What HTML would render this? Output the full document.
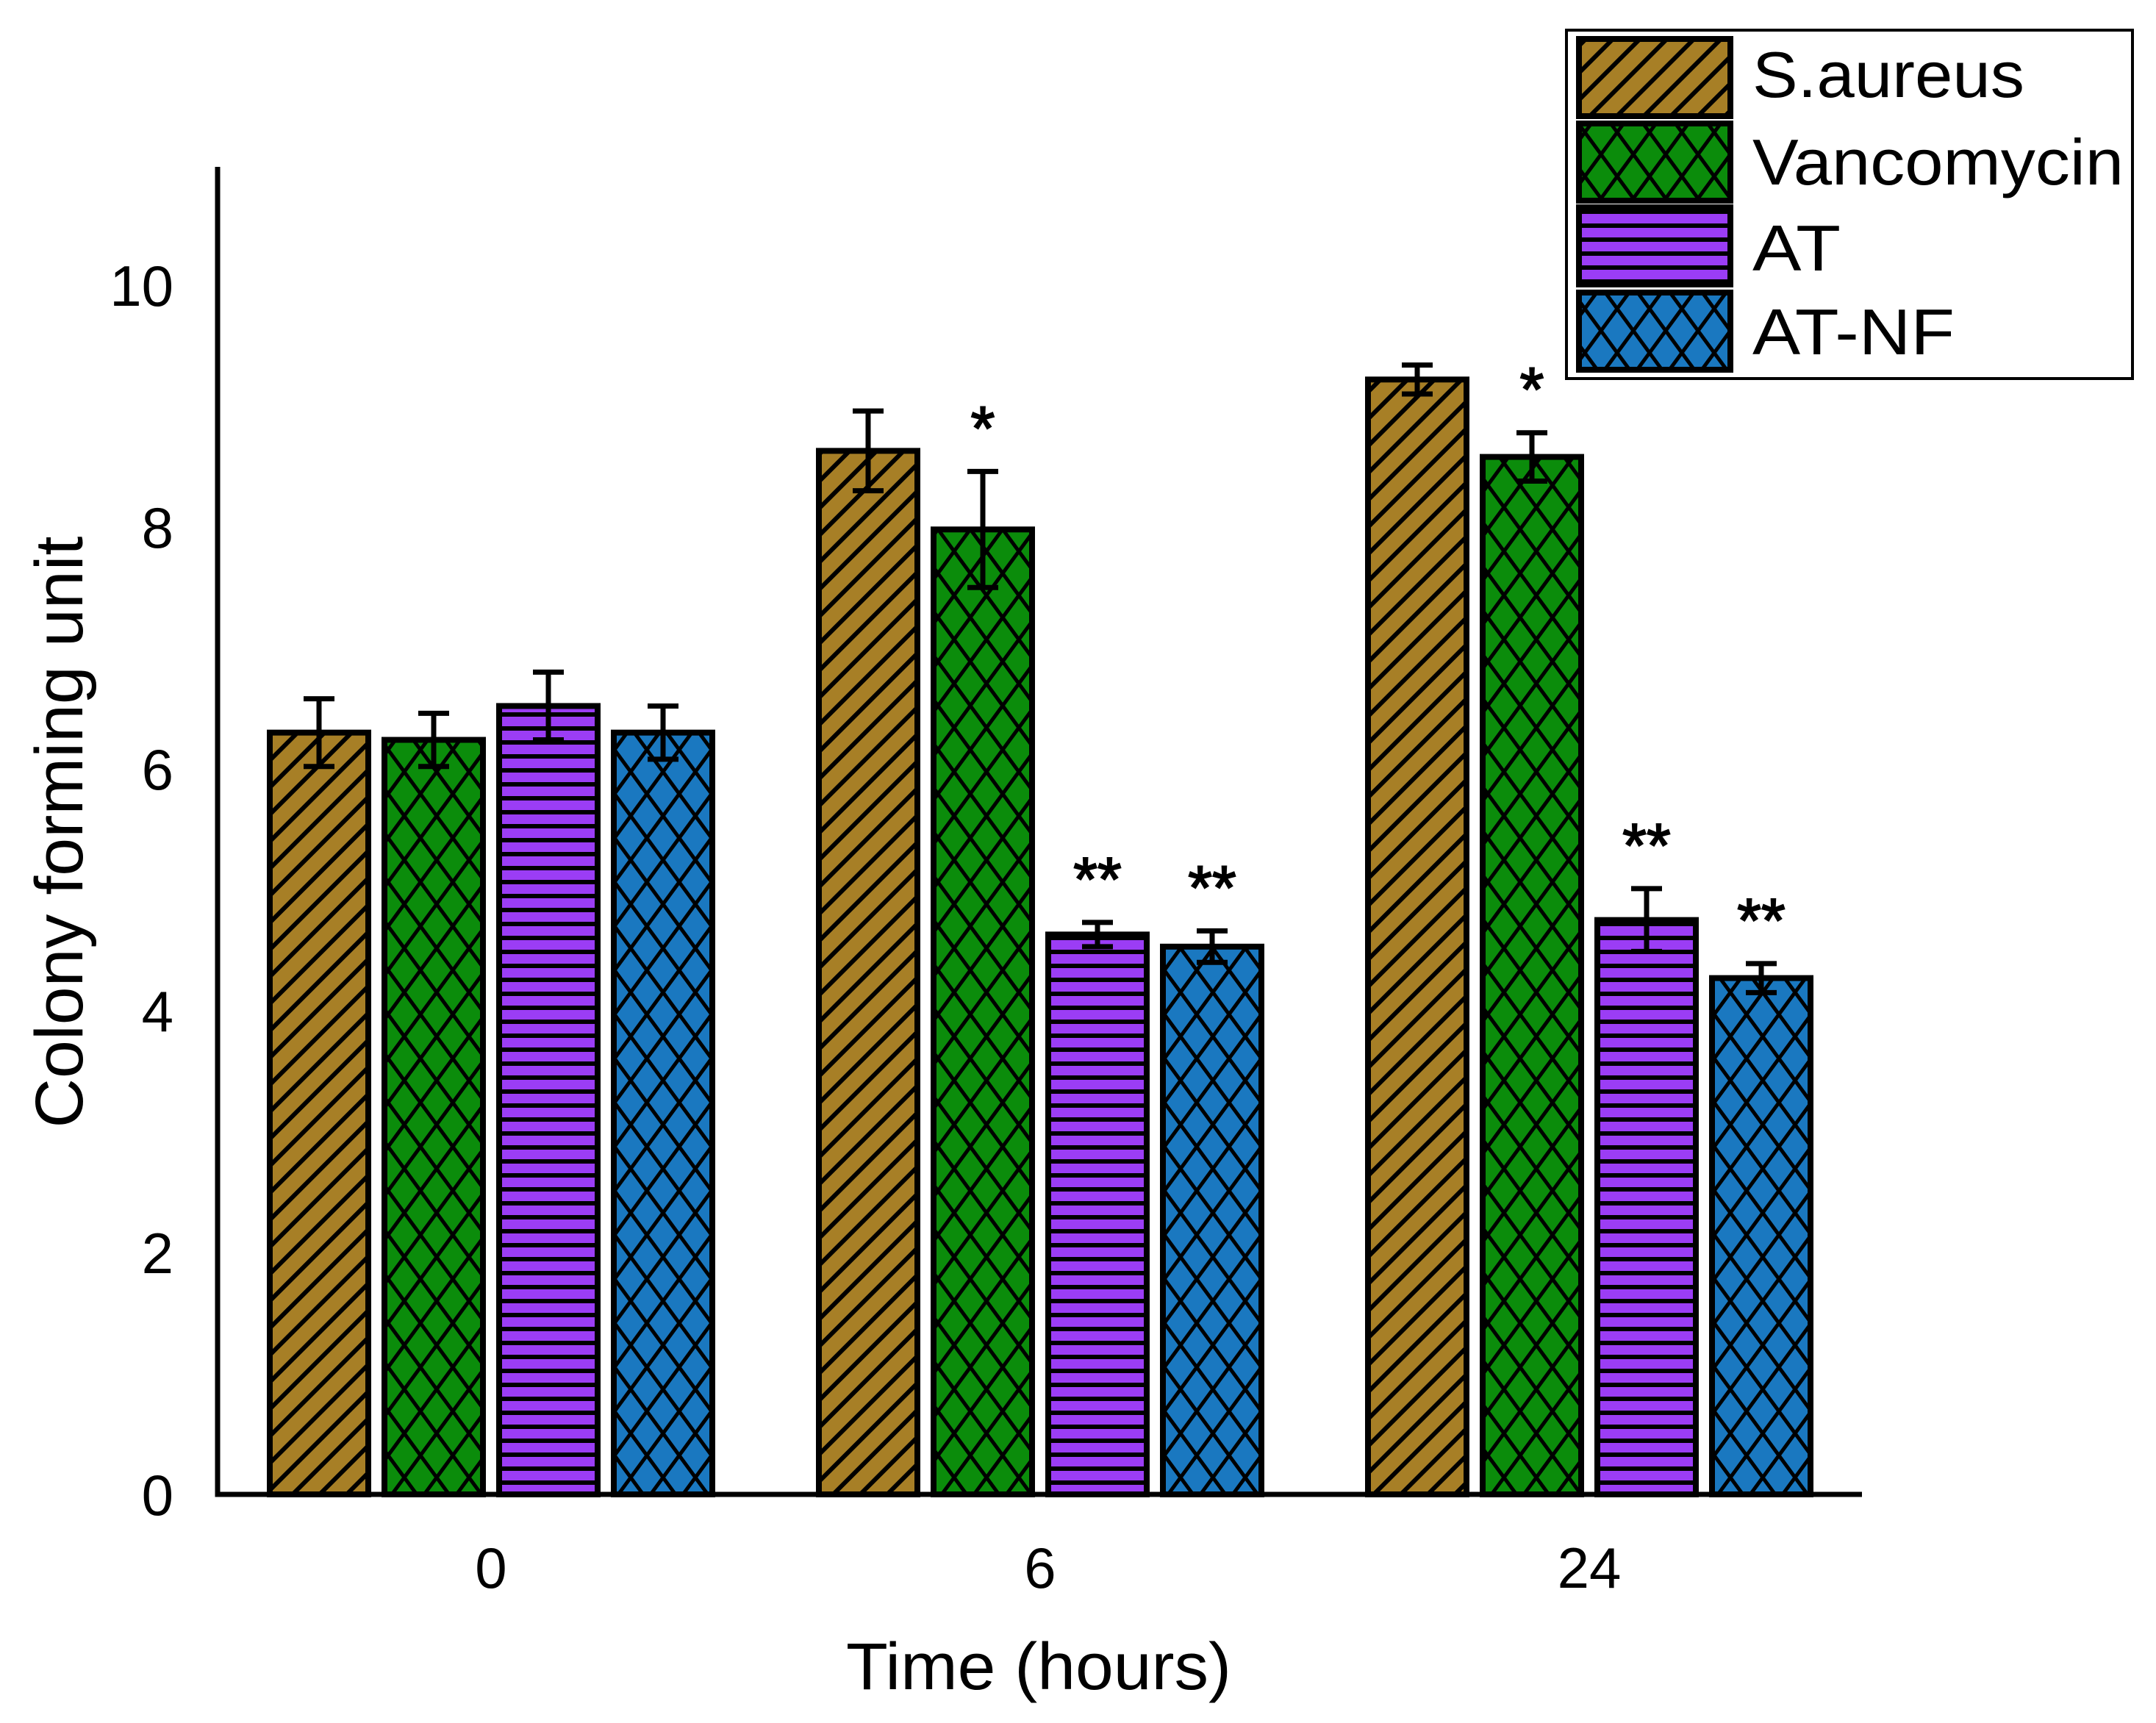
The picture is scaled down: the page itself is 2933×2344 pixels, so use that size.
<!DOCTYPE html>
<html><head><meta charset="utf-8"><style>
html,body{margin:0;padding:0;background:#fff;}
svg{display:block;}
text{font-family:"Liberation Sans",Arial,sans-serif;fill:#000;}
</style></head><body>
<svg id="chart" width="2933" height="2344" viewBox="0 0 2933 2344" xmlns="http://www.w3.org/2000/svg">
<defs>
<pattern id="p-diag" patternUnits="userSpaceOnUse" width="26" height="26" patternTransform="rotate(45)">
<rect width="26" height="26" fill="#a77f26"/><rect x="0" y="0" width="6" height="26" fill="#000"/></pattern>
<pattern id="p-cross-g" patternUnits="userSpaceOnUse" width="44" height="60">
<rect width="44" height="60" fill="#0b8c0b"/><path d="M0 0L44 60M44 0L0 60" stroke="#000" stroke-width="5"/></pattern>
<pattern id="p-horiz" patternUnits="userSpaceOnUse" width="20" height="19">
<rect width="20" height="19" fill="#9b3df5"/><rect y="0" width="20" height="6" fill="#000"/></pattern>
<pattern id="p-cross-b" patternUnits="userSpaceOnUse" width="44" height="60">
<rect width="44" height="60" fill="#1a78c0"/><path d="M0 0L44 60M44 0L0 60" stroke="#000" stroke-width="5"/></pattern>
</defs>
<g id="plot"></g>
</svg>
<script>
const categories = ["0","6","24"];
const seriesNames = ["S.aureus","Vancomycin","AT","AT-NF"];
const sAureus = [6.30, 8.63, 9.22];
const vancomycin = [6.24, 7.98, 8.58];
const atVals = [6.52, 4.63, 4.75];
const atNf = [6.30, 4.53, 4.27];
const sAureusErr = [0.28, 0.33, 0.12];
const vancomycinErr = [0.22, 0.48, 0.20];
const atErr = [0.28, 0.10, 0.26];
const atNfErr = [0.22, 0.13, 0.12];
const sigVancomycin = ["", "*", "*"];
const sigAt = ["", "**", "**"];
const sigAtNf = ["", "**", "**"];
const sigSAureus = ["", "", ""];
const yTicks = [0,2,4,6,8,10];

const NS="http://www.w3.org/2000/svg";
const g=document.getElementById('plot');
const x0=296, y0=2033, pxPerUnit=164.5, catW=747, firstCenter=668;
const barW=134, barStep=156;
function yS(v){return y0 - v*pxPerUnit;}
function xCat(i){return firstCenter + i*catW;}
function mk(tag,attrs){const e=document.createElementNS(NS,tag);for(const k in attrs)e.setAttribute(k,attrs[k]);g.appendChild(e);return e;}

const series=[
 {vals:sAureus,err:sAureusErr,sig:sigSAureus,fill:"url(#p-diag)",key:"s-aureus"},
 {vals:vancomycin,err:vancomycinErr,sig:sigVancomycin,fill:"url(#p-cross-g)",key:"vancomycin"},
 {vals:atVals,err:atErr,sig:sigAt,fill:"url(#p-horiz)",key:"at"},
 {vals:atNf,err:atNfErr,sig:sigAtNf,fill:"url(#p-cross-b)",key:"at-nf"}];

series.forEach((s,si)=>{
 s.vals.forEach((v,ci)=>{
  const cx=xCat(ci)+(si-1.5)*barStep;
  const b=mk('rect',{x:cx-barW/2,y:yS(v),width:barW,height:y0-yS(v),fill:s.fill,stroke:"#000","stroke-width":8});
  
  
  const hi=yS(v+s.err[ci]), lo=yS(v-s.err[ci]);
  const e=mk('path',{d:`M${cx} ${hi}V${lo}M${cx-21} ${hi}H${cx+21}M${cx-21} ${lo}H${cx+21}`,stroke:"#000","stroke-width":7,fill:"none"});
  
  
  if(s.sig[ci]){
   const t=mk('text',{x:cx,y:hi-30,"text-anchor":"middle","font-size":84,stroke:"#000","stroke-width":2});
   t.textContent=s.sig[ci];
   
   
  }
 });
});

const ax=mk('path',{d:`M${x0} 227V${y0}H2533`,stroke:"#000","stroke-width":7,fill:"none"});



yTicks.forEach(t=>{
 const tx=mk('text',{x:236,y:yS(t)+28,"text-anchor":"end","font-size":78});
 tx.textContent=String(t);
 
 
});
categories.forEach((c,ci)=>{
 const tx=mk('text',{x:xCat(ci),y:2160,"text-anchor":"middle","font-size":78});
 tx.textContent=c;
 
 
});
const yt=mk('text',{x:0,y:0,"text-anchor":"middle","font-size":92,transform:"translate(112 1132) rotate(-90)",textLength:805,lengthAdjust:"spacingAndGlyphs"});
yt.textContent="Colony forming unit";


const xt=mk('text',{x:1413,y:2298,"text-anchor":"middle","font-size":90,textLength:524,lengthAdjust:"spacingAndGlyphs"});
xt.textContent="Time (hours)";



// legend
const lb=mk('rect',{x:2131,y:41,width:770,height:474,fill:"#fff",stroke:"#000","stroke-width":4});


const rowsY=[53,168,282,398], base=[132,251,368,482], widths=[370,505,120,275];
series.forEach((s,si)=>{
 const sw=mk('rect',{x:2148,y:rowsY[si],width:206,height:105,fill:s.fill,stroke:"#000","stroke-width":8});
 
 
 const t=mk('text',{x:2384,y:base[si],"font-size":88,textLength:widths[si],lengthAdjust:"spacingAndGlyphs"});
 t.textContent=seriesNames[si];
 
 
});
</script>
</body></html>
